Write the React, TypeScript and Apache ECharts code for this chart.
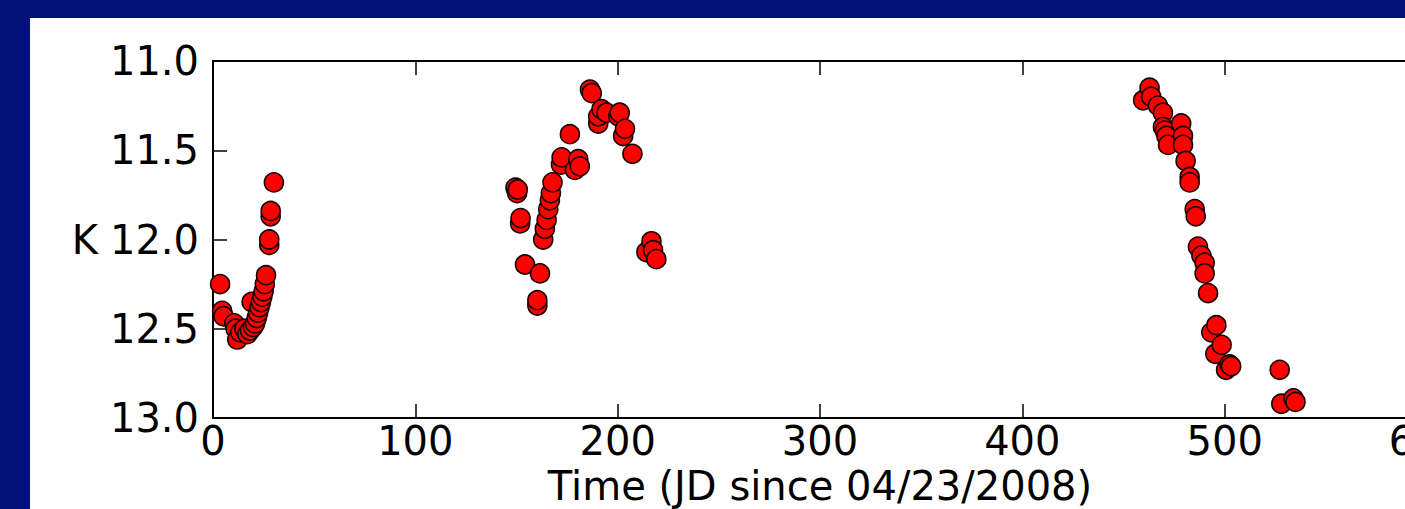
import React, { useEffect, useRef } from "react";
import * as echarts from "echarts";

// K-band photometry, [day since 04/23/2008, K magnitude]
const season1: [number, number][] = [
  [3.5, 12.25], [4.5, 12.4], [5.2, 12.43], [10.5, 12.47], [11.2, 12.5],
  [12.0, 12.56], [13.5, 12.52], [15.5, 12.5], [17.0, 12.53], [18.3, 12.51],
  [19.1, 12.35], [19.8, 12.49], [20.8, 12.47], [21.6, 12.44], [22.3, 12.41],
  [23.0, 12.38], [23.7, 12.35], [24.4, 12.32], [25.0, 12.29], [25.6, 12.25],
  [26.2, 12.2], [27.8, 12.03], [27.8, 12.0], [28.5, 11.87], [28.5, 11.84],
  [30.1, 11.68],
];

const season2: [number, number][] = [
  [149.5, 11.71], [150.3, 11.74], [150.6, 11.72], [151.8, 11.91], [152.0, 11.88],
  [154.2, 12.14], [160.3, 12.37], [160.3, 12.34], [161.6, 12.19],
  [163.2, 12.0], [164.0, 11.94], [164.9, 11.89], [165.7, 11.83], [166.5, 11.78],
  [167.0, 11.74], [167.8, 11.68], [172.0, 11.58], [172.3, 11.54], [176.4, 11.41],
  [178.9, 11.61], [180.5, 11.55], [181.3, 11.59], [186.3, 11.16], [187.2, 11.18],
  [190.4, 11.35], [190.4, 11.31], [192.0, 11.27], [194.5, 11.29], [200.3, 11.31],
  [201.0, 11.29], [202.7, 11.42], [203.6, 11.38], [207.3, 11.52],
  [214.2, 12.07], [216.7, 12.01], [217.5, 12.06], [219.1, 12.11],
];

const season3: [number, number][] = [
  [459.7, 11.22], [462.9, 11.15], [463.7, 11.2], [467.0, 11.25], [469.5, 11.29],
  [469.5, 11.37], [470.4, 11.39], [471.2, 11.42], [472.0, 11.47], [478.5, 11.35],
  [479.4, 11.42], [479.4, 11.47], [480.7, 11.56], [482.7, 11.65], [482.7, 11.68],
  [485.2, 11.83], [485.7, 11.87], [486.8, 12.04], [488.5, 12.09], [490.1, 12.13],
  [490.1, 12.19], [491.8, 12.3], [493.4, 12.52], [495.4, 12.64], [495.9, 12.48],
  [498.5, 12.59], [500.7, 12.73], [502.4, 12.7], [503.2, 12.71],
  [527.2, 12.73], [528.0, 12.92], [534.0, 12.89], [535.0, 12.91],
];

const FONT = "DejaVu Sans";
const INK = "#000000";

export default function App() {
  const ref = useRef<HTMLDivElement>(null);

  useEffect(() => {
    if (!ref.current) return;
    const chart = echarts.init(ref.current, undefined, { renderer: "svg" });
    const axisLine = { show: true, onZero: false, lineStyle: { color: INK, width: 2 } };
    const tick = { show: true, inside: true, length: 14, lineStyle: { color: INK, width: 1.5 } };
    chart.setOption({
      animation: false,
      backgroundColor: "#ffffff",
      grid: {
        left: 183,
        top: 43,
        right: 63,
        bottom: 91,
        containLabel: false,
        outerBoundsMode: "none",
      },
      xAxis: [
        {
          type: "value",
          min: 0,
          max: 600,
          interval: 100,
          position: "bottom",
          name: "Time (JD since 04/23/2008)",
          nameLocation: "middle",
          nameGap: 44,
          nameTextStyle: { fontFamily: FONT, fontSize: 40, color: INK },
          axisLine,
          axisTick: tick,
          splitLine: { show: false },
          axisLabel: {
            fontFamily: FONT,
            fontSize: 40,
            color: INK,
            margin: 3,
            showMinLabel: true,
            showMaxLabel: true,
          },
        },
        {
          type: "value",
          min: 0,
          max: 600,
          interval: 100,
          position: "top",
          axisLine,
          axisTick: tick,
          splitLine: { show: false },
          axisLabel: { show: false },
        },
      ],
      yAxis: {
        type: "value",
        inverse: true,
        min: 11,
        max: 13,
        interval: 0.5,
        name: "K",
        nameLocation: "middle",
        nameRotate: 0,
        nameGap: 115,
        nameTextStyle: { fontFamily: FONT, fontSize: 40, color: INK },
        axisLine,
        axisTick: tick,
        splitLine: { show: false },
        axisLabel: {
          fontFamily: FONT,
          fontSize: 40,
          color: INK,
          margin: 14,
          showMinLabel: true,
          showMaxLabel: true,
          formatter: (v: number) => v.toFixed(1),
        },
      },
      series: [season1, season2, season3].map((data) => ({
        type: "scatter",
        data,
        symbol: "circle",
        symbolSize: 19,
        itemStyle: { color: "#ff0000", borderColor: "#1a0000", borderWidth: 1.6, opacity: 1 },
        emphasis: { disabled: true },
      })),
    });
    return () => chart.dispose();
  }, []);

  return (
    <div
      style={{
        position: "fixed",
        left: 0,
        top: 0,
        width: 1405,
        height: 509,
        background: "#001278",
        overflow: "hidden",
      }}
    >
      <div
        ref={ref}
        style={{ position: "absolute", left: 30, top: 18, width: 1460, height: 491 }}
      />
    </div>
  );
}
